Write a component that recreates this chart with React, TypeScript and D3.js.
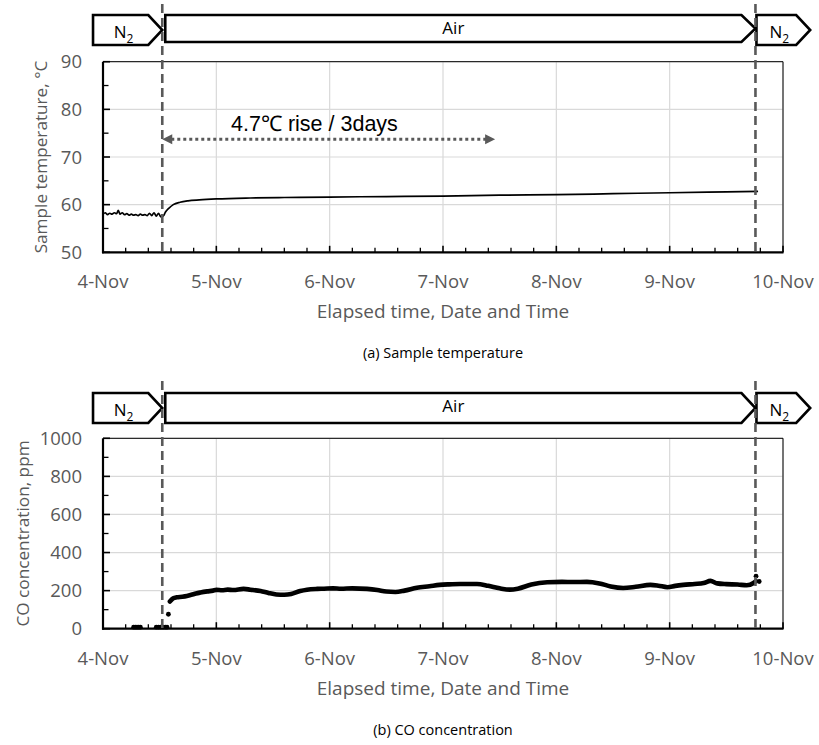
import React from "react";
import * as d3 from "d3";

// ---------- data ----------
const dayLabels = ["4-Nov", "5-Nov", "6-Nov", "7-Nov", "8-Nov", "9-Nov", "10-Nov"];
const tempTicks = [50, 60, 70, 80, 90];
const tempMinor = [55, 65, 75, 85];
const coTicks = [0, 200, 400, 600, 800, 1000];
const coMinor = [100, 300, 500, 700, 900];
// gas switch times, in days after 4-Nov 00:00
const switchDays = [0.523, 5.757];
const phaseNames = ["N2", "Air", "N2"];
const phaseEdges = [-0.088, 0.523, 5.757, 6.24];

// sample temperature (day, °C)
const tempData: [number, number][] = [
  [0.0, 58.0], [0.02, 58.3], [0.04, 57.9], [0.06, 58.2], [0.08, 58.0], [0.1, 58.3],
  [0.12, 58.1], [0.135, 58.8], [0.15, 58.0], [0.17, 58.3], [0.19, 57.9], [0.21, 58.1],
  [0.23, 57.8], [0.25, 58.0], [0.27, 57.8], [0.29, 57.9], [0.31, 57.7], [0.33, 58.0],
  [0.35, 57.8], [0.37, 57.9], [0.39, 57.7], [0.41, 58.2], [0.43, 57.7], [0.45, 58.3],
  [0.47, 57.6], [0.49, 58.2], [0.505, 57.6], [0.52, 57.4], [0.535, 57.7], [0.55, 58.4],
  [0.58, 59.2], [0.62, 60.0], [0.68, 60.5], [0.75, 60.8], [0.85, 61.0], [1.0, 61.2],
  [1.3, 61.4], [1.6, 61.5], [2.0, 61.6], [2.5, 61.7], [3.0, 61.8], [3.5, 62.0],
  [4.0, 62.1], [4.5, 62.3], [5.0, 62.5], [5.5, 62.7], [5.78, 62.8],
];

// CO concentration (day, ppm) - continuous trace
const coLineData: [number, number][] = [
  [0.59, 143], [0.62, 160], [0.65, 165], [0.7, 168], [0.74, 172], [0.78, 178], [0.82, 185],
  [0.86, 190], [0.92, 196], [0.97, 200], [1.0, 204], [1.05, 202], [1.1, 205], [1.15, 203],
  [1.24, 209], [1.3, 205], [1.39, 198], [1.46, 188], [1.53, 180], [1.6, 178], [1.66, 182],
  [1.74, 198], [1.8, 205], [1.89, 209], [1.95, 210], [2.03, 212], [2.1, 210], [2.2, 212],
  [2.33, 209], [2.42, 203], [2.5, 195], [2.58, 193], [2.66, 200], [2.77, 215], [2.88, 223],
  [2.97, 230], [3.05, 233], [3.15, 235], [3.3, 235], [3.4, 225], [3.5, 212], [3.59, 205],
  [3.66, 210], [3.78, 232], [3.92, 244], [4.05, 246], [4.15, 245], [4.27, 246], [4.38, 238],
  [4.48, 222], [4.59, 214], [4.7, 220], [4.83, 230], [4.9, 226], [4.98, 218], [5.05, 225],
  [5.12, 230], [5.22, 235], [5.3, 240], [5.36, 251], [5.42, 238], [5.5, 234], [5.6, 232],
  [5.68, 228], [5.74, 240], [5.76, 250],
];
// CO isolated readings (day, ppm)
const coDots: [number, number][] = [
  [0.27, 8], [0.285, 8], [0.3, 8], [0.315, 8], [0.33, 8],
  [0.47, 8], [0.49, 8], [0.51, 8], [0.53, 8], [0.55, 8], [0.565, 8],
  [0.577, 76], [5.762, 276], [5.79, 248],
];

// annotation
const annoText = "4.7℃ rise / 3days";
const annoFrom = 0.523;
const annoTo = 3.46;
const annoY = 73.7;

// ---------- layout ----------
const W = 819;
const H = 745;
const X0 = 103;
const X1 = 783;
const GRAY = "#595959";
const GRID = "#d9d9d9";
const FONT = "'Open Sans', sans-serif";

const x = d3.scaleLinear().domain([0, 6]).range([X0, X1]);
const majorDays = d3.range(0, 7);
const minorDays = d3.range(0, 30).map((i) => i * 0.2).filter((d) => Math.abs(d - Math.round(d)) > 0.01);

type PanelProps = {
  top: number;
  bottom: number;
  y: d3.ScaleLinear<number, number>;
  ticks: number[];
  minor: number[];
  yTitle: string;
  yTitleX: number;
  caption: string;
  bannerTop: number;
  airBottom: number;
  bannerBottom: number;
  dashTop: number;
  children?: React.ReactNode;
};

function Banner({ top, bottom, airBottom }: { top: number; bottom: number; airBottom: number }) {
  const tip = 14;
  return (
    <g>
      {phaseNames.map((name, i) => {
        const isAir = name === "Air";
        const b = isAir ? airBottom : bottom;
        const left = x(phaseEdges[i]) + (i === 0 ? 0 : i === 1 ? 3 : 1);
        const right = x(phaseEdges[i + 1]);
        const mid = (top + b) / 2;
        const pts = [
          [left, top],
          [right - tip, top],
          [right, mid],
          [right - tip, b],
          [left, b],
        ];
        const cx = (left + right - tip) / 2 + (isAir ? 0 : 3);
        return (
          <g key={i}>
            <polygon
              points={pts.map((p) => p.join(",")).join(" ")}
              fill="#fff"
              stroke="#000"
              strokeWidth={2.6}
              strokeLinejoin="miter"
            />
            {isAir ? (
              <text x={cx} y={top + 19} textAnchor="middle" fontFamily={FONT} fontSize={17} fill="#000">
                Air
              </text>
            ) : (
              <text x={cx} y={top + 22.5} textAnchor="middle" fontFamily={FONT} fontSize={17} fill="#000">
                N
                <tspan fontSize={12} dy={5}>
                  2
                </tspan>
              </text>
            )}
          </g>
        );
      })}
    </g>
  );
}

function Panel(p: PanelProps) {
  const { top, bottom, y } = p;
  return (
    <g>
      {/* gridlines */}
      {p.ticks.slice(1).map((t) => (
        <line key={"gy" + t} x1={X0} x2={X1} y1={y(t)} y2={y(t)} stroke={GRID} strokeWidth={1.2} />
      ))}
      {majorDays.slice(1).map((d) => (
        <line key={"gx" + d} x1={x(d)} x2={x(d)} y1={top} y2={bottom} stroke={GRID} strokeWidth={1.2} />
      ))}
      {/* frame */}
      <line x1={X0} x2={X1} y1={top} y2={top} stroke="#000" strokeWidth={1} />
      <line x1={X1} x2={X1} y1={top} y2={bottom} stroke="#000" strokeWidth={1} />
      {p.children}
      {/* axes */}
      <line x1={X0} x2={X0} y1={top} y2={bottom + 1} stroke="#000" strokeWidth={2.2} />
      <line x1={X0 - 1} x2={X1 + 0.5} y1={bottom} y2={bottom} stroke="#000" strokeWidth={2.2} />
      {majorDays.map((d) => (
        <line key={"mx" + d} x1={x(d)} x2={x(d)} y1={bottom} y2={bottom - 6.5} stroke="#000" strokeWidth={1.6} />
      ))}
      {minorDays.map((d) => (
        <line key={"nx" + d} x1={x(d)} x2={x(d)} y1={bottom} y2={bottom - 4.5} stroke="#000" strokeWidth={1.3} />
      ))}
      {p.ticks.map((t) => (
        <line key={"my" + t} x1={X0} x2={X0 + 7} y1={y(t)} y2={y(t)} stroke="#000" strokeWidth={1.6} />
      ))}
      {p.minor.map((t) => (
        <line key={"ny" + t} x1={X0} x2={X0 + 5.5} y1={y(t)} y2={y(t)} stroke="#000" strokeWidth={1.3} />
      ))}
      {/* tick labels */}
      {p.ticks.map((t) => (
        <text
          key={"ly" + t}
          x={X0 - 21}
          y={y(t)}
          dy="0.36em"
          textAnchor="end"
          fontFamily={FONT}
          fontSize={18.5}
          fill={GRAY}
        >
          {t}
        </text>
      ))}
      {majorDays.map((d, i) => (
        <text
          key={"lx" + d}
          x={x(d)}
          y={bottom + 36}
          textAnchor="middle"
          fontFamily={FONT}
          fontSize={18.5}
          fill={GRAY}
        >
          {dayLabels[i]}
        </text>
      ))}
      {/* titles */}
      <text
        x={(X0 + X1) / 2}
        y={bottom + 66}
        textAnchor="middle"
        fontFamily={FONT}
        fontSize={19}
        fill={GRAY}
      >
        Elapsed time, Date and Time
      </text>
      <text
        transform={`translate(${p.yTitleX},${(top + bottom) / 2}) rotate(-90)`}
        textAnchor="middle"
        fontFamily={FONT}
        fontSize={17.2}
        fill={GRAY}
      >
        {p.yTitle}
      </text>
      <text
        x={(X0 + X1) / 2}
        y={bottom + 106}
        textAnchor="middle"
        fontFamily={FONT}
        fontSize={14.5}
        fill="#000"
      >
        {p.caption}
      </text>
      <Banner top={p.bannerTop} bottom={p.bannerBottom} airBottom={p.airBottom} />
      {switchDays.map((d) => (
        <line
          key={"sw" + d}
          x1={x(d)}
          x2={x(d)}
          y1={p.dashTop}
          y2={bottom}
          stroke={GRAY}
          strokeWidth={2.6}
          strokeDasharray="9,5"
        />
      ))}
    </g>
  );
}

export default function App() {
  const yT = d3.scaleLinear().domain([50, 90]).range([252.3, 61.7]);
  const yC = d3.scaleLinear().domain([0, 1000]).range([628.7, 438.3]);

  const tempLine = d3
    .line<[number, number]>()
    .x((d) => x(d[0]))
    .y((d) => yT(d[1]))
    .curve(d3.curveMonotoneX);
  const coLine = d3
    .line<[number, number]>()
    .x((d) => x(d[0]))
    .y((d) => yC(d[1]))
    .curve(d3.curveMonotoneX);

  const ax1 = x(annoFrom);
  const ax2 = x(annoTo);
  const ay = yT(annoY);

  return (
    <svg
      width={W}
      height={H}
      viewBox={`0 0 ${W} ${H}`}
      style={{ position: "absolute", left: 0, top: 0, background: "#fff" }}
    >
      <rect width={W} height={H} fill="#fff" />
      <Panel
        top={61.7}
        bottom={252.3}
        y={yT}
        ticks={tempTicks}
        minor={tempMinor}
        yTitle="Sample temperature, °C"
        yTitleX={47}
        caption="(a) Sample temperature"
        bannerTop={15}
        bannerBottom={45}
        airBottom={42}
        dashTop={4}
      >
        <path d={tempLine(tempData) || ""} fill="none" stroke="#000" strokeWidth={1.7} />
        {/* annotation */}
        <line x1={ax1 + 9} x2={ax2 - 9} y1={ay} y2={ay} stroke={GRAY} strokeWidth={3} strokeDasharray="3,3" />
        <polygon points={`${ax1},${ay} ${ax1 + 10},${ay - 5} ${ax1 + 10},${ay + 5}`} fill={GRAY} />
        <polygon points={`${ax2},${ay} ${ax2 - 10},${ay - 5} ${ax2 - 10},${ay + 5}`} fill={GRAY} />
        <text
          x={x(1.13)}
          y={yT(75.4)}
          fontFamily="'Liberation Sans', Arial, sans-serif"
          fontSize={21.5}
          fill="#000"
        >
          {annoText}
        </text>
      </Panel>
      <Panel
        top={438.3}
        bottom={628.7}
        y={yC}
        ticks={coTicks}
        minor={coMinor}
        yTitle="CO concentration, ppm"
        yTitleX={29}
        caption="(b) CO concentration"
        bannerTop={393}
        bannerBottom={423}
        airBottom={423}
        dashTop={381}
      >
        <path
          d={coLine(coLineData) || ""}
          fill="none"
          stroke="#000"
          strokeWidth={4.6}
          strokeLinecap="round"
          strokeLinejoin="round"
        />
        {coDots.map((d, i) => (
          <circle key={i} cx={x(d[0])} cy={yC(d[1])} r={2.4} fill="#000" />
        ))}
      </Panel>
    </svg>
  );
}
